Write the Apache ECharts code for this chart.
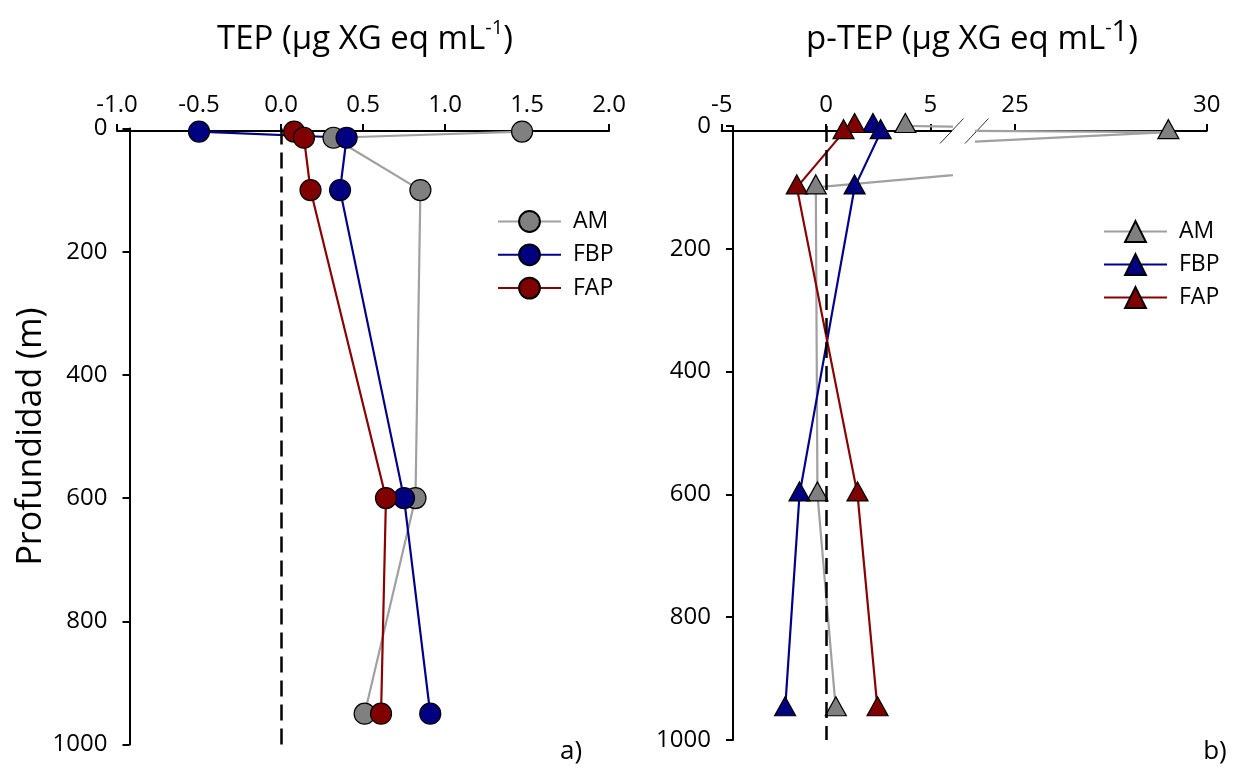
<!DOCTYPE html>
<html><head><meta charset="utf-8">
<script src="https://cdn.jsdelivr.net/npm/echarts@6/dist/echarts.min.js"></script>
<style>html,body{margin:0;padding:0;background:#fff}#c{width:1243px;height:768px}</style>
</head><body><div id="c"></div>
<script>
// ---- data ----
const seriesNames = ['AM', 'FBP', 'FAP'];
// panel a) TEP (µg XG eq mL-1)
const depthsA = [5, 15, 100, 600, 950];
const tepAM  = [1.47, 0.32, 0.85, 0.82, 0.51];
const tepFBP = [-0.50, 0.40, 0.36, 0.75, 0.91];
const tepFAP = [0.08, 0.14, 0.18, 0.64, 0.61];
// panel b) p-TEP (µg XG eq mL-1)
const depthsB = [0, 10, 100, 600, 950];
const ptepAM  = [3.8, 29.0, -0.49, -0.41, 0.47];
const ptepFBP = [2.25, 2.62, 1.37, -1.27, -1.96];
const ptepFAP = [1.37, 0.84, -1.40, 1.51, 2.47];
// tick labels
const ticksA  = [-1.0, -0.5, 0.0, 0.5, 1.0, 1.5, 2.0];
const ticksB1 = [-5, 0, 5];
const ticksB2 = [25, 30];
const depthTicks = [0, 200, 400, 600, 800, 1000];

// ---- styling ----
const FONT = 'Open Sans';
const fills = ['#808080', '#000080', '#800000'];
const strokes = ['#a0a0a0', '#00008b', '#8b0000'];

const chart = echarts.init(document.getElementById('c'), null, {renderer: 'canvas'});

function mkSeries(name, vals, depths, xi, sym, ci, extra) {
  const s = {
    type: 'line', name: name, xAxisIndex: xi, yAxisIndex: xi,
    data: vals.map((v, i) => [v, depths[i]]),
    symbol: sym,
    symbolSize: sym === 'circle' ? 21 : [21, 19],
    symbolOffset: sym === 'triangle' ? [0, -3] : [0, 0],
    showAllSymbol: true,
    itemStyle: {color: fills[ci], borderColor: '#000', borderWidth: 1.2},
    lineStyle: {color: strokes[ci], width: 2.2},
    clip: true, silent: true, animation: false,
    emphasis: {disabled: true}
  };
  return Object.assign(s, extra || {});
}
const zeroLine = {
  silent: true, symbol: 'none', label: {show: false},
  lineStyle: {color: '#000', width: 2.5, type: [16, 8]},
  data: [[{coord: [0, 0]}, {coord: [0, 1000]}]]
};

function xAxisBase(gi) {
  return {
    type: 'value', gridIndex: gi, position: 'top', offset: gi === 0 ? -2.5 : -5,
    splitLine: {show: false},
    axisLine: {show: true, onZero: false, lineStyle: {color: '#000', width: 2}},
    axisTick: {show: true, inside: false, length: 7, lineStyle: {color: '#000', width: 2}},
    axisLabel: {show: true, color: '#000', fontSize: 24, fontFamily: FONT, margin: 14}
  };
}
function yAxisBase(gi, show, offset) {
  return {
    type: 'value', gridIndex: gi, inverse: true, min: depthTicks[0], max: depthTicks[depthTicks.length - 1],
    interval: depthTicks[1] - depthTicks[0], show: show, offset: offset,
    splitLine: {show: false},
    axisLine: {show: true, onZero: false, lineStyle: {color: '#000', width: 2}},
    axisTick: {show: true, inside: false, length: 7, lineStyle: {color: '#000', width: 2}},
    axisLabel: {show: true, color: '#000', fontSize: 24, fontFamily: FONT, margin: 22, formatter: v => String(v)}
  };
}

const xA = Object.assign(xAxisBase(0), {min: ticksA[0], max: ticksA[ticksA.length - 1], interval: 0.5});
xA.axisLabel.formatter = v => v.toFixed(1);
const xB1 = Object.assign(xAxisBase(1), {min: -5, max: 6});
xB1.axisLabel.customValues = ticksB1; xB1.axisTick.customValues = ticksB1;
const xB2 = Object.assign(xAxisBase(2), {min: 24, max: 30});
xB2.axisLabel.customValues = ticksB2; xB2.axisTick.customValues = ticksB2;

const yA = yAxisBase(0, true, -12.5);
Object.assign(yA, {name: 'Profundidad (m)', nameLocation: 'middle', nameRotate: 90, nameGap: 80,
  nameTextStyle: {fontSize: 34, fontFamily: FONT, color: '#000'}});
const yB1 = yAxisBase(1, true, -11.3);
const yB2 = yAxisBase(2, false, 0);

const sA = [tepAM, tepFBP, tepFAP];
const sB = [ptepAM, ptepFBP, ptepFAP];
const series = [];
seriesNames.forEach((n, i) => {
  series.push(mkSeries(n, sA[i], depthsA, 0, 'circle', i, i === 0 ? {markLine: zeroLine} : null));
});
seriesNames.forEach((n, i) => {
  series.push(mkSeries(n + ' ', sB[i], depthsB, 1, 'triangle', i, i === 0 ? {markLine: zeroLine} : null));
});
seriesNames.forEach((n, i) => {
  series.push(mkSeries(n + ' ', sB[i], depthsB, 2, 'triangle', i));
});

const legendBase = {
  orient: 'vertical', itemWidth: 63, itemHeight: 26, padding: 0, selectedMode: false,
  formatter: n => n.trim(),
  textStyle: {fontSize: 23, fontFamily: FONT, color: '#000', padding: [0, 0, 0, 7]}
};

const option = {
  backgroundColor: '#fff',
  animation: false,
  textStyle: {fontFamily: FONT},
  grid: [
    {left: 117, top: 128.5, width: 492, height: 616},
    {left: 721.7, top: 126, width: 229.5, height: 614},
    {left: 976.7, top: 126, width: 230, height: 614}
  ],
  xAxis: [xA, xB1, xB2],
  yAxis: [yA, yB1, yB2],
  legend: [
    Object.assign({}, legendBase, {data: seriesNames, left: 497, top: 210, itemGap: 10.3}),
    Object.assign({}, legendBase, {data: seriesNames.map(n => n + ' '), left: 1103, top: 220, itemGap: 10})
  ],
  graphic: [
    {type: 'text', x: 365, y: 40, silent: true, style: {
      text: '{a|TEP (µg XG eq mL}{s|-1}{a|)}', align: 'center', verticalAlign: 'middle',
      rich: {a: {fontSize: 33, fontFamily: FONT, fill: '#000', lineHeight: 44, verticalAlign: 'middle'},
             s: {fontSize: 20, fontFamily: FONT, fill: '#000', lineHeight: 22, verticalAlign: 'top'}}}},
    {type: 'text', x: 972, y: 40, silent: true, style: {
      text: '{a|p-TEP (µg XG eq mL}{s|-}{t|1}{a|)}', align: 'center', verticalAlign: 'middle',
      rich: {a: {fontSize: 33, fontFamily: FONT, fill: '#000', lineHeight: 44, verticalAlign: 'middle'},
             s: {fontSize: 20, fontFamily: FONT, fill: '#000', lineHeight: 22, verticalAlign: 'top'},
             t: {fontSize: 29, fontFamily: FONT, fill: '#000', lineHeight: 32, verticalAlign: 'top'}}}},
    {type: 'text', x: 571, y: 752, silent: true, style: {text: 'a)', fontSize: 26, fontFamily: FONT, fill: '#000', align: 'center', verticalAlign: 'middle'}},
    {type: 'text', x: 1215, y: 752, silent: true, style: {text: 'b)', fontSize: 26, fontFamily: FONT, fill: '#000', align: 'center', verticalAlign: 'middle'}},
    {type: 'line', silent: true, shape: {x1: 940, y1: 143.5, x2: 963.5, y2: 118.5}, style: {stroke: '#333', lineWidth: 1}},
    {type: 'line', silent: true, shape: {x1: 965, y1: 143.5, x2: 988.5, y2: 118.5}, style: {stroke: '#333', lineWidth: 1}}
  ],
  series: series
};
chart.setOption(option);
</script>
</body></html>
